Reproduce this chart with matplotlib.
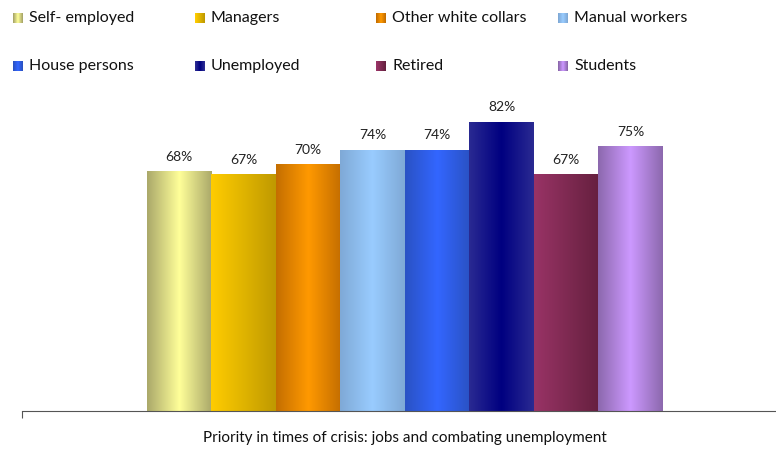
import numpy as np
import matplotlib
matplotlib.use("Agg")
import matplotlib.pyplot as plt
from matplotlib.colors import LinearSegmentedColormap
from matplotlib.patches import Rectangle

plt.rcParams['font.family'] = ['Lato', 'DejaVu Sans']

groups = ["Self- employed", "Managers", "Other white collars", "Manual workers",
          "House persons", "Unemployed", "Retired", "Students"]
values = [0.68, 0.67, 0.70, 0.74, 0.74, 0.82, 0.67, 0.75]
labels = ["68%", "67%", "70%", "74%", "74%", "82%", "67%", "75%"]
xlabel = "Priority in times of crisis: jobs and combating unemployment"

# left edge / centre / right edge colours of each gradient bar
grads = [
    ("#aaa86a", "#ffff99", "#aaa86a"),
    ("#ffcc00", "#e0b400", "#bf9900"),
    ("#c46e00", "#ff9900", "#c46e00"),
    ("#7fa9d6", "#99ccff", "#7fa9d6"),
    ("#2a52c4", "#3366ff", "#2a52c4"),
    ("#2a2a92", "#000080", "#2a2a92"),
    ("#993366", "#7f2a52", "#66203f"),
    ("#8c68ad", "#cc99ff", "#8c68ad"),
]
cmaps = [LinearSegmentedColormap.from_list("g%d" % i, g) for i, g in enumerate(grads)]
ramp = np.linspace(0, 1, 256).reshape(1, -1)

W, H = 776, 449
fig = plt.figure(figsize=(W / 100, H / 100), dpi=100)
ax = fig.add_axes([22 / W, (H - 411) / H, (776 - 22) / W, 353 / H])

x = np.arange(len(values))
bars = ax.bar(x, values, width=1.0, color="none", edgecolor="none")
for b, cm, lab in zip(bars, cmaps, labels):
    x0, w, h = b.get_x(), b.get_width(), b.get_height()
    im = ax.imshow(ramp, cmap=cm, extent=(x0, x0 + w, 0, h), aspect="auto",
                   interpolation="bilinear", zorder=2)
    im.set_clip_path(b)
    ax.annotate(lab, (x0 + w / 2, h), xytext=(0, 6), textcoords="offset points",
                ha="center", va="bottom", fontsize=10, color="#222222")

ax.set_xlim(-2.438, 9.252)
ax.set_ylim(0, 1.0)
for s in ("top", "right", "left"):
    ax.spines[s].set_visible(False)
ax.spines["bottom"].set_color("#555555")
ax.set_yticks([])
ax.set_xticks([-2.438])
ax.set_xticklabels([""])
ax.tick_params(axis="x", length=5, color="#555555", direction="out")
ax.set_xlabel(xlabel, fontsize=11, color="#111111")
ax.xaxis.set_label_coords((405 - 22) / (776 - 22), -20 / 353)

# legend, 2 rows x 4 columns
col_x = [13, 195, 376, 558]
row_y = [18, 66]
for i, (name, cm) in enumerate(zip(groups, cmaps)):
    cx = col_x[i % 4]
    cy = row_y[i // 4]
    n = 10
    for k in range(n):
        fig.add_artist(Rectangle(((cx + k) / W, (H - cy - 5) / H), 1 / W, 10 / H,
                                 transform=fig.transFigure,
                                 facecolor=cm(k / (n - 1)), edgecolor="none"))
    fig.text((cx + 16) / W, (H - cy) / H, name, fontsize=11.5, va="center",
             ha="left", color="#111111")

fig.savefig("out.png", dpi=100)
